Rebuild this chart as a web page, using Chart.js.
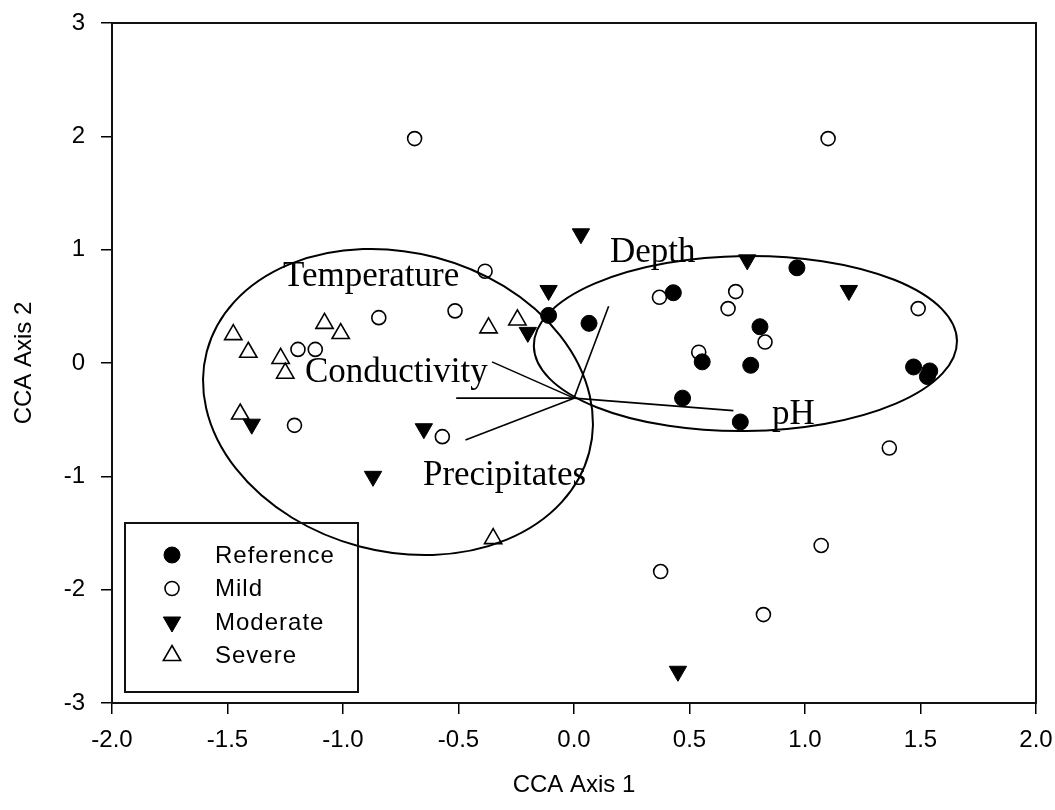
<!DOCTYPE html>
<html>
<head>
<meta charset="utf-8">
<script src="https://cdn.jsdelivr.net/npm/chart.js"></script>
<style>
html,body{margin:0;padding:0;background:#fff;}
#wrap{width:1055px;height:810px;position:relative;}
</style>
</head>
<body>
<div id="wrap"><canvas id="c" width="1055" height="810"></canvas></div>
<script>
// ---------- data ----------
const xTickValues = [-2.0, -1.5, -1.0, -0.5, 0.0, 0.5, 1.0, 1.5, 2.0];
const yTickValues = [-3, -2, -1, 0, 1, 2, 3];

const referencePts = [
  [0.43, 0.62], [-0.11, 0.42], [0.065, 0.35], [0.555, 0.01], [0.47, -0.31],
  [0.72, -0.52], [0.965, 0.84], [0.805, 0.32], [0.765, -0.02], [1.47, -0.035],
  [1.54, -0.07], [1.53, -0.12]
];
const mildPts = [
  [-0.69, 1.98], [1.10, 1.98], [-0.385, 0.81], [-0.515, 0.46], [0.37, 0.58],
  [0.70, 0.63], [0.667, 0.48], [0.827, 0.185], [0.54, 0.095], [1.49, 0.48],
  [1.365, -0.75], [-0.845, 0.40], [-1.195, 0.12], [-1.12, 0.12], [-1.21, -0.55],
  [-0.57, -0.65], [0.375, -1.84], [0.82, -2.22], [1.07, -1.61]
];
const moderatePts = [
  [0.03, 1.14], [-0.11, 0.64], [-0.20, 0.27], [0.75, 0.91], [1.19, 0.64],
  [-1.395, -0.54], [-0.65, -0.58], [-0.87, -1.00], [0.45, -2.72]
];
const severePts = [
  [-1.475, 0.25], [-1.41, 0.095], [-1.08, 0.35], [-1.01, 0.26], [-1.27, 0.04],
  [-1.25, -0.09], [-1.445, -0.45], [-0.37, 0.31], [-0.245, 0.38], [-0.35, -1.55]
];

// environmental vectors (biplot arrows): common origin and tips
const vectorOrigin = [0.0, -0.31];
const vectorNames = ['Depth', 'Conductivity', 'Temperature', 'Precipitates', 'pH'];
const vectorTips = [[0.15, 0.50], [-0.355, 0.01], [-0.51, -0.31], [-0.47, -0.68], [0.69, -0.42]];

// variable labels
const labelTexts = ['Temperature', 'Depth', 'Conductivity', 'Precipitates', 'pH'];
const labelAnchors = [[-1.26, 0.68], [0.156, 0.89], [-1.165, -0.167], [-0.654, -1.075], [0.857, -0.537]];

// group ellipses: center (data), semi-axes (x-axis units), rotation (deg)
const ellipseCenters = [[-0.762, -0.344], [0.742, 0.172]];
const ellipseAxes = [[0.856, 0.647], [0.916, 0.379]];
const ellipseRotations = [14.8, -0.7];

const toXY = arr => arr.map(p => ({x: p[0], y: p[1]}));

const SANS = "'Liberation Sans', Arial, sans-serif";
const SERIF = "'Liberation Serif', 'Times New Roman', serif";

function drawMarker(ctx, ds, x, y) {
  ctx.save();
  ctx.lineWidth = ds.borderWidth;
  ctx.strokeStyle = ds.borderColor;
  ctx.fillStyle = ds.backgroundColor;
  const r = ds.pointRadius;
  ctx.beginPath();
  if (ds.pointStyle === 'circle') {
    ctx.arc(x, y, r, 0, Math.PI * 2);
  } else {
    const rot = (ds.rotation || 0) * Math.PI / 180;
    for (let i = 0; i < 3; i++) {
      const a = rot + i * 2 * Math.PI / 3;
      const px = x + Math.sin(a) * r, py = y - Math.cos(a) * r;
      if (i === 0) ctx.moveTo(px, py); else ctx.lineTo(px, py);
    }
    ctx.closePath();
  }
  ctx.fill();
  ctx.stroke();
  ctx.restore();
}

const annotations = {
  id: 'annotations',
  afterDatasetsDraw(chart) {
    const {ctx, scales: {x, y}} = chart;
    const pxPerX = x.getPixelForValue(1) - x.getPixelForValue(0);
    ctx.save();
    ctx.strokeStyle = '#000';
    ctx.lineWidth = 2;
    ellipseCenters.forEach((c, i) => {
      ctx.beginPath();
      ctx.ellipse(x.getPixelForValue(c[0]), y.getPixelForValue(c[1]),
        ellipseAxes[i][0] * pxPerX, ellipseAxes[i][1] * pxPerX,
        ellipseRotations[i] * Math.PI / 180, 0, Math.PI * 2);
      ctx.stroke();
    });
    ctx.lineWidth = 1.6;
    const ox = x.getPixelForValue(vectorOrigin[0]), oy = y.getPixelForValue(vectorOrigin[1]);
    vectorTips.forEach(t => {
      ctx.beginPath();
      ctx.moveTo(ox, oy);
      ctx.lineTo(x.getPixelForValue(t[0]), y.getPixelForValue(t[1]));
      ctx.stroke();
    });
    ctx.fillStyle = '#000';
    ctx.font = "35px " + SERIF;
    ctx.textAlign = 'left';
    ctx.textBaseline = 'alphabetic';
    labelTexts.forEach((t, i) => {
      ctx.fillText(t, x.getPixelForValue(labelAnchors[i][0]), y.getPixelForValue(labelAnchors[i][1]));
    });
    ctx.restore();
  },
  afterDraw(chart) {
    const {ctx, chartArea} = chart;
    ctx.save();
    ctx.strokeStyle = '#111';
    ctx.lineWidth = 2;
    ctx.strokeRect(chartArea.left, chartArea.top, chartArea.right - chartArea.left, chartArea.bottom - chartArea.top);
    const lx = 125, ly = 523, lw = 233, lh = 169;
    ctx.strokeRect(lx, ly, lw, lh);
    ctx.font = "24px " + SANS;
    ctx.fillStyle = '#000';
    ctx.textAlign = 'left';
    ctx.textBaseline = 'middle';
    try { ctx.letterSpacing = '1px'; } catch (e) {}
    chart.data.datasets.forEach((ds, i) => {
      const yy = ly + 32 + i * 33.5;
      drawMarker(ctx, ds, lx + 47, yy);
      ctx.fillText(ds.label, lx + 90, yy + 1);
    });
    ctx.restore();
  }
};

new Chart(document.getElementById('c'), {
  type: 'scatter',
  data: {
    datasets: [
      {label: 'Reference', data: toXY(referencePts), pointStyle: 'circle', pointRadius: 8,
       backgroundColor: '#000', borderColor: '#000', borderWidth: 1},
      {label: 'Mild', data: toXY(mildPts), pointStyle: 'circle', pointRadius: 7,
       backgroundColor: '#fff', borderColor: '#000', borderWidth: 1.6},
      {label: 'Moderate', data: toXY(moderatePts), pointStyle: 'triangle', rotation: 180, pointRadius: 10,
       backgroundColor: '#000', borderColor: '#000', borderWidth: 1},
      {label: 'Severe', data: toXY(severePts), pointStyle: 'triangle', pointRadius: 10,
       backgroundColor: '#fff', borderColor: '#000', borderWidth: 1.6}
    ]
  },
  options: {
    responsive: false,
    animation: false,
    devicePixelRatio: 1,
    layout: {padding: {top: 23, right: 19, left: 0, bottom: 0}},
    plugins: {legend: {display: false}, tooltip: {enabled: false}},
    elements: {point: {hoverRadius: 0}},
    scales: {
      x: {
        type: 'linear', min: -2, max: 2,
        afterBuildTicks: s => { s.ticks = xTickValues.map(v => ({value: v})); },
        afterFit: s => { s.height = 107; s.paddingLeft = 0; s.paddingRight = 0; },
        ticks: {callback: v => Number(v).toFixed(1), font: {size: 24, family: SANS}, color: '#000', padding: 12, maxRotation: 0, autoSkip: false},
        grid: {drawOnChartArea: false, drawTicks: true, tickLength: 11, color: '#000', lineWidth: 1.5},
        border: {display: false},
        title: {display: true, text: 'CCA Axis 1', font: {size: 24, family: SANS}, color: '#000', padding: {top: 0, bottom: 10}}
      },
      y: {
        type: 'linear', min: -3, max: 3,
        afterBuildTicks: s => { s.ticks = yTickValues.map(v => ({value: v})); },
        afterFit: s => { s.width = 112; s.paddingTop = 0; s.paddingBottom = 0; },
        ticks: {callback: v => String(v), font: {size: 24, family: SANS}, color: '#000', padding: 16, autoSkip: false},
        grid: {drawOnChartArea: false, drawTicks: true, tickLength: 11, color: '#000', lineWidth: 1.5},
        border: {display: false},
        title: {display: true, text: 'CCA Axis 2', font: {size: 24, family: SANS}, color: '#000', padding: {top: 10, bottom: 0}}
      }
    }
  },
  plugins: [annotations]
});
</script>
</body>
</html>
